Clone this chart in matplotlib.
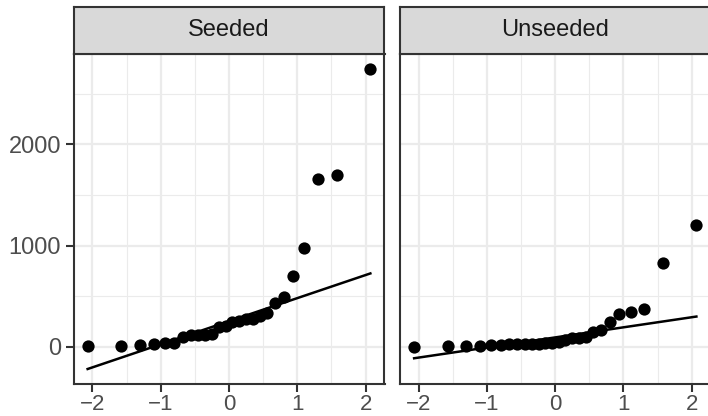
import numpy as np
from statistics import NormalDist
from matplotlib import pyplot as plt

# Cloud seeding rainfall, one facet per treatment
panels = ["Seeded", "Unseeded"]
seeded = [2745.6, 1697.8, 1656.0, 978.0, 703.4, 489.1, 430.0, 334.1, 302.8, 274.7,
          274.7, 255.0, 242.5, 200.7, 198.6, 129.6, 119.0, 118.3, 115.3, 92.4,
          40.6, 32.7, 31.4, 17.5, 7.7, 4.1]
unseeded = [1202.6, 830.1, 372.4, 345.5, 321.2, 244.3, 163.0, 147.8, 95.0, 87.0,
            81.2, 68.5, 47.3, 41.1, 36.6, 29.0, 28.6, 26.3, 26.1, 24.4,
            21.7, 17.3, 11.5, 4.9, 4.9, 1.0]
xticks = [-2, -1, 0, 1, 2]
yticks = [0, 1000, 2000]

plt.rcParams['font.family'] = ['Liberation Sans', 'DejaVu Sans']

nd = NormalDist()

def qq(vals):
	y = np.sort(np.array(vals))
	n = len(y)
	p = (np.arange(1, n + 1) - 0.5) / n
	x = np.array([nd.inv_cdf(v) for v in p])
	q1, q3 = np.percentile(y, [25, 75])
	t1, t3 = nd.inv_cdf(0.25), nd.inv_cdf(0.75)
	slope = (q3 - q1) / (t3 - t1)
	icpt = q1 - slope * t1
	lx = np.array([x.min(), x.max()])
	return x, y, lx, icpt + slope * lx

data = [qq(seeded), qq(unseeded)]

allx = np.concatenate([np.concatenate([d[0], d[2]]) for d in data])
ally = np.concatenate([np.concatenate([d[1], d[3]]) for d in data])
xr = allx.max() - allx.min()
yr = ally.max() - ally.min()
xlim = (allx.min() - 0.05 * xr, allx.max() + 0.05 * xr)
ylim = (ally.min() - 0.05 * yr, ally.max() + 0.05 * yr)

W, H = 708, 416
fig = plt.figure(figsize=(W / 100, H / 100), dpi=100)
dark = '#333333'
grid = '#EBEBEB'

lefts = [(73.5, 384.5), (400, 710.5)]
for i, name in enumerate(panels):
	x0, x1 = lefts[i]
	ax = fig.add_axes([x0 / W, 32 / H, (x1 - x0) / W, 330 / H])
	sx = fig.add_axes([x0 / W, 362 / H, (x1 - x0) / W, 47 / H])
	sx.set_facecolor('#D9D9D9')
	sx.set_xticks([])
	sx.set_yticks([])
	for s in sx.spines.values():
		s.set_color(dark)
		s.set_linewidth(1.5)
	sx.text(0.5, 0.5, name, ha='center', va='center', fontsize=17, color='#1A1A1A', transform=sx.transAxes)

	x, y, lx, ly = data[i]
	ax.set_xlim(xlim)
	ax.set_ylim(ylim)
	ax.set_xticks(xticks)
	ax.set_xticks([-1.5, -0.5, 0.5, 1.5], minor=True)
	ax.set_xticklabels(['\u22122', '\u22121', '0', '1', '2'])
	ax.set_yticks(yticks)
	ax.set_yticks([500, 1500, 2500], minor=True)
	ax.grid(True, which='major', color=grid, linewidth=1.6, zorder=0)
	ax.grid(True, which='minor', color=grid, linewidth=0.8, zorder=0)
	ax.set_axisbelow(True)
	ax.tick_params(which='major', length=6, width=1.5, color=dark, labelsize=17, labelcolor='#4D4D4D', pad=3)
	ax.tick_params(axis='x', which='major', labelsize=16, pad=1.5)
	ax.tick_params(which='minor', length=0)
	if i == 1:
		ax.tick_params(axis='y', which='both', length=0, labelleft=False)
	for s in ax.spines.values():
		s.set_color(dark)
		s.set_linewidth(1.5)
	ax.plot(lx, ly, color='black', linewidth=1.8, zorder=2)
	ax.scatter(x, y, s=78, color='black', zorder=3, linewidths=0)

plt.savefig('out.png', dpi=100)
